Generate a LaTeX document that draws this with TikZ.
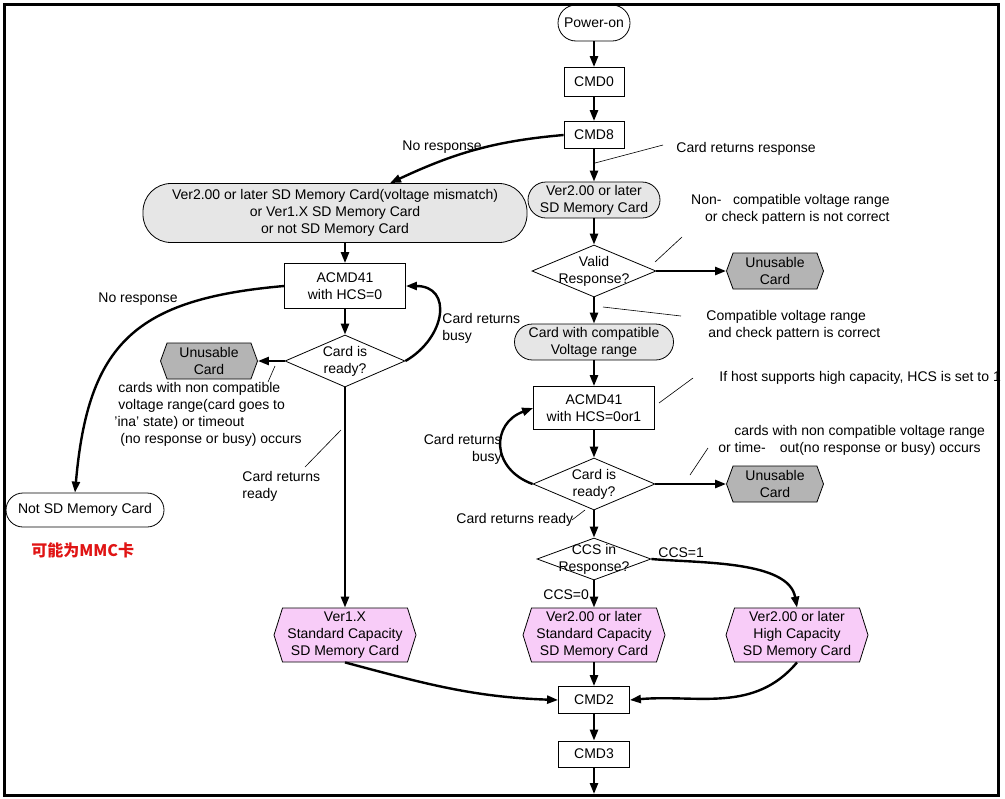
\documentclass[tikz,border=0pt]{standalone}
\usepackage{fontspec}
\setmainfont{Liberation Sans}
\newfontfamily\cjk{Noto Sans CJK SC}
\usepackage{xcolor}
\usepackage{tikz}
\usetikzlibrary{shapes,arrows.meta}

\definecolor{cardgray}{HTML}{E6E6E6}
\definecolor{unusgray}{HTML}{B4B4B4}
\definecolor{cardpink}{HTML}{F8CCF8}
\definecolor{notered}{HTML}{E01414}

\begin{document}
\begin{tikzpicture}[
    x=0.5pt, y=0.5pt,
    font=\fontsize{7}{8.5}\selectfont,
    cmd/.style={draw, rectangle, minimum width=30pt, minimum height=14pt, fill=white, align=center, inner sep=1pt},
    term/.style={draw, rectangle, rounded corners=8.5pt, minimum height=17pt, align=center, inner sep=1pt},
    dec/.style={draw, diamond, inner sep=0pt, minimum width=61pt, minimum height=26pt},
    unus/.style={draw, signal, signal to=west and east, signal pointer angle=140, minimum width=48.5pt, minimum height=18pt, fill=unusgray, align=center, inner sep=1pt},
    card/.style={draw, signal, signal to=west and east, signal pointer angle=145, minimum width=71pt, minimum height=27pt, fill=cardpink, align=center, inner sep=1pt},
    arr/.style={line width=1.2pt, -{Triangle[length=5.5pt,width=4pt]}},
    lead/.style={line width=0.3pt},
    note/.style={inner sep=0pt, align=left}
]
    % Frame
    \useasboundingbox (0,0) rectangle (1005,-798);
    \draw [line width=1.5pt] (4,-4) rectangle (998,-795);

    % Main column
    \node [term, minimum width=36pt, minimum height=18pt, rounded corners=9pt] (power) at (594,-23) {Power-on};
    \node [cmd, minimum height=14.5pt] (cmd0) at (594,-82) {CMD0};
    \node [cmd, minimum height=13.5pt] (cmd8) at (594,-135) {CMD8};
    \node [term, fill=cardgray, minimum width=66pt, minimum height=18pt, rounded corners=9pt] (sdtwo) at (594,-200) {Ver2.00 or later\\SD Memory Card};
    \node [dec, minimum width=62pt] (valid) at (594,-271) {};
    \node [align=center, inner sep=0pt] (validtxt) at (valid.center) {Valid\\Response?};
    \node [unus] (unusA) at (775,-271) {Unusable\\Card};
    \node [term, fill=cardgray, minimum width=79.5pt, minimum height=18pt, rounded corners=9pt] (compat) at (594,-342) {Card with compatible\\Voltage range};
    \node [cmd, minimum width=60.5pt, minimum height=21.5pt] (acmdR) at (594,-408) {ACMD41\\with HCS=0or1};
    \node [dec] (readyR) at (594,-484) {};
    \node [align=center, inner sep=0pt] (readyRtxt) at (readyR.center) {Card is\\ready?};
    \node [unus] (unusB) at (775,-484) {Unusable\\Card};
    \node [dec, minimum width=57pt, minimum height=21pt] (ccs) at (594,-559) {};
    \node [align=center, inner sep=0pt] (ccstxt) at (ccs.center) {CCS in\\Response?};
    \node [card] (stdtwo) at (594,-635) {Ver2.00 or later\\Standard Capacity\\SD Memory Card};
    \node [card] (hightwo) at (797,-635) {Ver2.00 or later\\High Capacity\\SD Memory Card};
    \node [cmd, minimum width=35.5pt, minimum height=13.5pt] (cmd2) at (594,-700) {CMD2};
    \node [cmd, minimum width=35.5pt, minimum height=13pt] (cmd3) at (594,-754) {CMD3};
    \coordinate (exit) at (594,-794);

    % Left column
    \node [term, fill=cardgray, minimum width=192pt, minimum height=29.5pt, rounded corners=14pt] (mixed) at (335,-213) {Ver2.00 or later SD Memory Card(voltage mismatch)\\or Ver1.X SD Memory Card\\or not SD Memory Card};
    \node [cmd, minimum width=60.5pt, minimum height=22.5pt] (acmdL) at (345,-286) {ACMD41\\with HCS=0};
    \node [dec, minimum width=60pt] (readyL) at (345,-361) {};
    \node [align=center, inner sep=0pt] (readyLtxt) at (readyL.center) {Card is\\ready?};
    \node [unus] (unusC) at (209,-361) {Unusable\\Card};
    \node [card] (stdone) at (345,-635) {Ver1.X\\Standard Capacity\\SD Memory Card};
    \node [term, minimum width=79pt, fill=white] (notsd) at (85,-510) {Not SD Memory Card};
    \node [anchor=west, inner sep=0pt, text=notered, font=\cjk\fontsize{8}{10}\selectfont\bfseries] (mmc) at (31,-550) {可能为MMC卡};

    % Notes
    \node [note, anchor=west] (noresA) at (402,-147) {No response};
    \node [note, anchor=west] (retresp) at (676,-149) {Card returns response};
    \node [note, anchor=east, align=right] (noncomp) at (890,-209) {Non-\ \ \ compatible voltage range\\or check pattern is not correct};
    \node [note, anchor=west] (compnote) at (706,-325) {Compatible voltage range\\\hspace*{1pt}and check pattern is correct};
    \node [note, anchor=west] (hcsnote) at (719,-378) {If host supports high capacity, HCS is set to 1};
    \node [note, anchor=west] (timeR) at (718,-440) {\hspace*{8pt}cards with non compatible voltage range\\or time-\quad out(no response or busy) occurs};
    \node [note, anchor=east, align=right] (busyR) at (502,-449) {Card returns\\busy};
    \node [note, anchor=west] (readyRnote) at (456,-520) {Card returns ready};
    \node [note, anchor=west] (ccsone) at (658,-553) {CCS=1};
    \node [note, anchor=west] (ccszero) at (543,-595) {CCS=0};
    \node [note, anchor=west] (noresB) at (98,-299) {No response};
    \node [note, anchor=west] (busyL) at (442,-328) {Card returns\\busy};
    \node [note, anchor=west] (timeL) at (114,-414) {\hspace*{2pt}cards with non compatible\\\hspace*{2pt}voltage range(card goes to\\'ina' state) or timeout\\\hspace*{3pt}(no response or busy) occurs};
    \node [note, anchor=west] (readyLnote) at (242,-486) {Card returns\\ready};

    % Arrows, right path
    \draw [arr] (power.south) -- (cmd0.north);
    \draw [arr] (cmd0.south) -- (cmd8.north);
    \draw [arr] (cmd8.south) -- (sdtwo.north);
    \draw [arr] (sdtwo.south) -- (valid.north);
    \draw [arr] (valid.east) -- (unusA.west);
    \draw [arr] (valid.south) -- (compat.north);
    \draw [arr] (compat.south) -- (acmdR.north);
    \draw [arr] (acmdR.south) -- (readyR.north);
    \draw [arr] (readyR.east) -- (unusB.west);
    \draw [arr] (readyR.west) to[out=160,in=200,looseness=1.5] (acmdR.west);
    \draw [arr] (readyR.south) -- (ccs.north);
    \draw [arr] (ccs.south) -- (stdtwo.north);
    \draw [arr] (ccs.east) to[out=-5,in=100,looseness=0.8] (hightwo.north);
    \draw [arr] (stdtwo.south) -- (cmd2.north);
    \draw [arr] (hightwo.south) to[out=-130,in=5] (cmd2.east);
    \draw [arr] (cmd2.south) -- (cmd3.north);
    \draw [arr] (cmd3.south) -- (exit);

    % Arrows, left path
    \draw [arr] (cmd8.west) to[out=185,in=25] ([xshift=27.5pt]mixed.north);
    \draw [arr] (mixed.south -| acmdL.north) -- (acmdL.north);
    \draw [arr] (acmdL.south) -- (readyL.north);
    \draw [arr] (readyL.east) to[out=30,in=0,looseness=1.6] (acmdL.east);
    \draw [arr] (readyL.west) -- (unusC.east);
    \draw [arr] (readyL.south) -- (stdone.north);
    \draw [arr] (acmdL.west) to[out=185,in=85,looseness=1.3] ([xshift=-5pt]notsd.north);
    \draw [arr] (stdone.south) to[out=-15,in=178] (cmd2.west);

    % Leader lines
    \coordinate (respA) at (595,-163);   \coordinate (respB) at (663,-145);
    \coordinate (noncA) at (655,-262);   \coordinate (noncB) at (682,-237);
    \coordinate (compA) at (603,-307);   \coordinate (compB) at (681,-316);
    \coordinate (hcsA) at (659,-403);    \coordinate (hcsB) at (693,-378);
    \coordinate (timeRA) at (690,-475);  \coordinate (timeRB) at (708,-448);
    \coordinate (rdyRA) at (585,-510);   \coordinate (rdyRB) at (572,-520);
    \coordinate (timeLA) at (275,-366);  \coordinate (timeLB) at (268,-382);
    \coordinate (rdyLA) at (341,-430);   \coordinate (rdyLB) at (305,-467);
    \draw [lead] (respA) -- (respB);
    \draw [lead] (noncA) -- (noncB);
    \draw [lead] (compA) -- (compB);
    \draw [lead] (hcsA) -- (hcsB);
    \draw [lead] (timeRA) -- (timeRB);
    \draw [lead] (rdyRA) -- (rdyRB);
    \draw [lead] (timeLA) -- (timeLB);
    \draw [lead] (rdyLA) -- (rdyLB);

\end{tikzpicture}
\end{document}
